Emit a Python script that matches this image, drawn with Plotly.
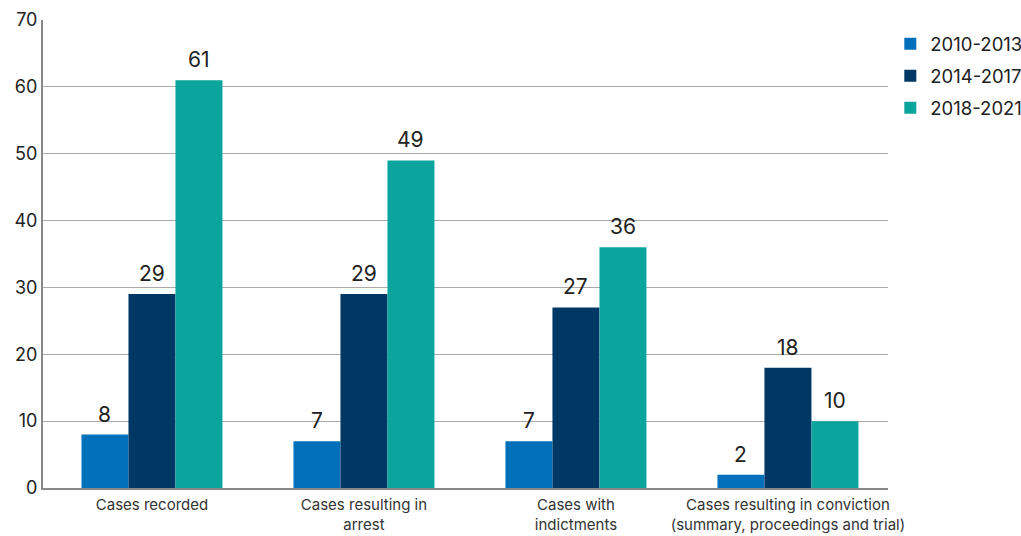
import plotly.graph_objects as go

categories = [
    "Cases recorded",
    "Cases resulting in<br>arrest",
    "Cases with<br>indictments",
    "Cases resulting in conviction<br>(summary, proceedings and trial)",
]
series_names = ["2010-2013", "2014-2017", "2018-2021"]
values_2010_2013 = [8, 7, 7, 2]
values_2014_2017 = [29, 29, 27, 18]
values_2018_2021 = [61, 49, 36, 10]
colors = ["#0070BB", "#003865", "#0BA59E"]

font_family = "Inter, Roboto, Arial, sans-serif"

W, H = 1021, 536
margin = dict(l=43, r=133, t=20, b=48)
bargap = 0.335
n_series = len(series_names)
x_range = [-0.514, 3.472]

fig = go.Figure()
all_values = [values_2010_2013, values_2014_2017, values_2018_2021]
for i, (name, vals, col) in enumerate(zip(series_names, all_values, colors)):
    fig.add_trace(go.Bar(
        x=categories, y=vals, name=name, legendgroup=name,
        marker=dict(color=col, line=dict(width=0)),
    ))

# value labels above each bar, shifted to the bar's slot within its group
plot_w = W - margin["l"] - margin["r"]
px_per_cat = plot_w / (x_range[1] - x_range[0])
slot_px = px_per_cat * (1 - bargap) / n_series
annotations = []
for i, vals in enumerate(all_values):
    for cat, v in zip(categories, vals):
        annotations.append(dict(
            x=cat, y=v, xref="x", yref="y", text=str(v), showarrow=False,
            xshift=(i - (n_series - 1) / 2) * slot_px, yshift=6,
            yanchor="bottom", xanchor="center",
            font=dict(size=21, color="#222222", family=font_family),
        ))

fig.update_layout(
    width=W, height=H,
    barmode="group", bargap=bargap, bargroupgap=0,
    margin=margin,
    plot_bgcolor="white", paper_bgcolor="white",
    font=dict(family=font_family, color="#222222"),
    annotations=annotations,
    legend=dict(
        xref="container", yref="container",
        x=0.872, y=0.953, xanchor="left", yanchor="top",
        font=dict(size=18.5, color="#222222", family=font_family),
        tracegroupgap=5, itemwidth=30,
    ),
    xaxis=dict(
        automargin=False, range=x_range,
        showline=True, linecolor="#888888", linewidth=2,
        ticks="", ticklabelstandoff=2,
        tickfont=dict(size=15, color="#333333"),
    ),
    yaxis=dict(
        automargin=False,
        range=[0, 70], dtick=10,
        showgrid=True, gridcolor="#AAAAAA", gridwidth=1,
        showline=True, linecolor="#888888", linewidth=2,
        ticks="", tickfont=dict(size=18, color="#222222"),
        zeroline=False,
    ),
)

fig.write_html("out.html")
